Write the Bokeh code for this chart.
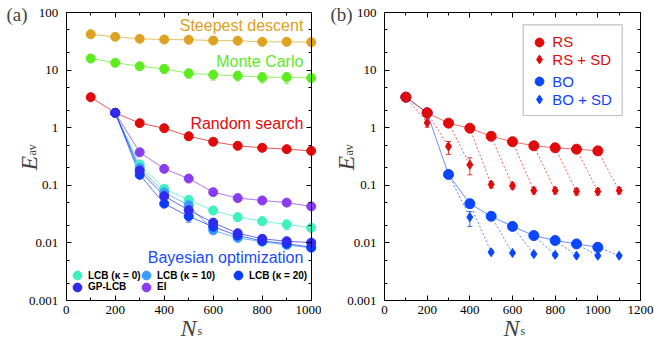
import math
from bokeh.plotting import figure
from bokeh.models import (Range1d, FixedTicker, CustomJSTickFormatter, LinearAxis, LogAxis,
                          Label, Legend, LegendItem, Whisker, TeeHead, ColumnDataSource, BoxAnnotation)
from bokeh.layouts import row
from bokeh.embed import file_html
from bokeh.resources import INLINE

# ---------------- data: panel (a) ----------------
n_a = [100, 200, 300, 400, 500, 600, 700, 800, 900, 1000]
sd_vals = [42.0, 37.8, 34.9, 34.0, 33.6, 32.6, 32.3, 31.0, 31.0, 30.5]
mc_vals = [15.9, 13.4, 11.7, 10.5, 8.8, 8.3, 8.0, 7.5, 7.5, 7.3]
mc_lo = [14.8, 11.5, 10.0, 8.7, 7.2, 6.7, 6.5, 6.0, 5.9, 6.2]
mc_hi = [17.0, 15.2, 13.5, 12.4, 10.3, 9.9, 9.5, 9.0, 9.0, 8.5]
rs_vals = [3.39, 1.81, 1.20, 0.98, 0.71, 0.57, 0.485, 0.448, 0.424, 0.396]

n_bo = [200, 300, 400, 500, 600, 700, 800, 900, 1000]
ei_vals = [1.81, 0.375, 0.193, 0.131, 0.076, 0.060, 0.0545, 0.050, 0.043]
lcb0_vals = [1.81, 0.23, 0.087, 0.056, 0.0365, 0.028, 0.0238, 0.0209, 0.0183]
lcb0_lo = [1.81, 0.22, 0.080, 0.047, 0.033, 0.024, 0.020, 0.017, 0.0170]
lcb0_hi = [1.81, 0.24, 0.095, 0.065, 0.040, 0.033, 0.028, 0.025, 0.0196]
lcb10_vals = [1.81, 0.20, 0.075, 0.045, 0.0165, 0.0122, 0.0105, 0.0092, 0.0082]
lcb20_vals = [1.81, 0.152, 0.048, 0.029, 0.019, 0.0134, 0.0108, 0.0097, 0.0084]
lcb20_lo = [1.81, 0.145, 0.044, 0.023, 0.017, 0.0125, 0.0100, 0.0090, 0.0078]
lcb20_hi = [1.81, 0.160, 0.052, 0.035, 0.021, 0.0143, 0.0116, 0.0104, 0.0090]
gplcb_vals = [1.81, 0.18, 0.065, 0.037, 0.0225, 0.0147, 0.0118, 0.0107, 0.0101]

# ---------------- data: panel (b) ----------------
n_b = [100, 200, 300, 400, 500, 600, 700, 800, 900, 1000]
rs_b_vals = [3.39, 1.81, 1.20, 0.98, 0.71, 0.57, 0.485, 0.448, 0.424, 0.396]
n_rssd = [200, 300, 400, 500, 600, 700, 800, 900, 1000, 1100]
rssd_vals = [1.22, 0.472, 0.227, 0.103, 0.098, 0.081, 0.081, 0.078, 0.078, 0.081]
rssd_lo = [1.02, 0.343, 0.152, 0.090, 0.086, 0.071, 0.071, 0.068, 0.068, 0.071]
rssd_hi = [1.43, 0.576, 0.300, 0.116, 0.110, 0.091, 0.091, 0.088, 0.088, 0.091]
bo_b_vals = [3.39, 1.81, 0.154, 0.048, 0.029, 0.0193, 0.0134, 0.0110, 0.0096, 0.0084]
n_bosd = [400, 500, 600, 700, 800, 900, 1000, 1100]
bosd_vals = [0.028, 0.0069, 0.0067, 0.0064, 0.0062, 0.0060, 0.0060, 0.0060]
bosd_lo = [0.0193, 0.0065, 0.0063, 0.0060, 0.0058, 0.0057, 0.0057, 0.0057]
bosd_hi = [0.035, 0.0073, 0.0071, 0.0068, 0.0066, 0.0063, 0.0063, 0.0063]

y_major = [0.001, 0.01, 0.1, 1, 10, 100]
y_minor = [m * 10.0 ** e for e in range(-3, 2) for m in (2, 5)]
xa_major = [0, 200, 400, 600, 800, 1000]
xa_minor = [100, 300, 500, 700, 900]
xb_major = [0, 200, 400, 600, 800, 1000, 1200]
xb_minor = [100, 300, 500, 700, 900, 1100]

# ---------------- colours / fonts ----------------
C_SD = "#dda21f"
C_MC = "#5ded1f"
C_RS = "#e00a0a"
C_EI = "#8a3cf0"
C_L0 = "#3ff0c0"
C_L10 = "#3b9cff"
C_L20 = "#0a3cff"
C_GP = "#2e2aee"
C_BO = "#0a46ff"
SERIF = "Liberation Serif"
SANS = "Liberation Sans"

H = 340            # canvas height
F_TOP, F_BOT = 12.0, 300.0     # data box top/bottom (px from top)
Y_LO, Y_HI = 0.001, 100.0


def make_fig(width, box_left, box_right, xmax, xt_major, xt_minor):
    # canvas-wide frame; the data box is placed by the ranges, axes are pinned to it
    ppu = (box_right - box_left) / xmax
    x0 = -box_left / ppu
    x1 = (width - box_left) / ppu
    dec = (F_BOT - F_TOP) / (math.log10(Y_HI) - math.log10(Y_LO))
    ytop = math.log10(Y_HI) + F_TOP / dec
    ybot = math.log10(Y_LO) - (H - F_BOT) / dec
    p = figure(width=width, height=H, x_range=Range1d(x0, x1),
               y_range=Range1d(10 ** ybot, 10 ** ytop), y_axis_type="log",
               output_backend="svg", toolbar_location=None,
               min_border=0, min_border_left=0, min_border_right=0,
               min_border_top=0, min_border_bottom=0)
    p.grid.visible = False
    p.outline_line_color = None
    p.background_fill_color = "white"
    p.border_fill_color = "white"
    xt = FixedTicker(ticks=xt_major, minor_ticks=xt_minor)
    yt = FixedTicker(ticks=y_major, minor_ticks=y_minor)
    fmt = CustomJSTickFormatter(code="""
        if (tick >= 1) { return tick.toFixed(0); }
        const d = Math.round(-Math.log10(tick));
        return tick.toFixed(d);
    """)
    xa = p.xaxis[0]
    ya = p.yaxis[0]
    xa.fixed_location = Y_LO
    ya.fixed_location = 0
    xa.bounds = (0, xmax)
    ya.bounds = (Y_LO, Y_HI)
    xa.ticker = xt
    ya.ticker = yt
    ya.formatter = fmt
    xa.major_label_standoff = 5
    ya.major_label_standoff = 8
    empty = CustomJSTickFormatter(code="return '';")
    top = LinearAxis(ticker=xt, formatter=empty, fixed_location=Y_HI, bounds=(0, xmax))
    right = LogAxis(ticker=yt, formatter=empty, fixed_location=xmax, bounds=(Y_LO, Y_HI))
    p.add_layout(top, "above")
    p.add_layout(right, "right")
    for ax in (xa, ya, top, right):
        ax.major_tick_in = 5
        ax.major_tick_out = 0
        ax.minor_tick_in = 3
        ax.minor_tick_out = 0
        ax.major_label_text_font = SERIF
        ax.major_label_text_font_size = "13px"
        ax.major_label_text_color = "black"
        ax.axis_line_color = "black"
        ax.major_tick_line_color = "black"
        ax.minor_tick_line_color = "black"
    return p


def slabel(p, x, y, text, size, **kw):
    p.add_layout(Label(x=x, y=y, x_units="screen", y_units="screen", text=text,
                       text_font=SERIF, text_font_size=size, **kw))


def add_titles(p, panel, px, ex, nx):
    slabel(p, px, 326, panel, "19px", text_align="left", text_baseline="middle")
    # y label  E_av  (rotated, reading upwards)
    slabel(p, ex, 170, "E", "24px", angle=math.pi / 2, text_font_style="italic",
           text_align="left", text_baseline="alphabetic")
    slabel(p, ex + 3, 185, "av", "12px", angle=math.pi / 2,
           text_align="left", text_baseline="alphabetic")
    # x label  N_s
    slabel(p, nx, 13, "N", "24px", text_font_style="italic",
           text_align="left", text_baseline="alphabetic")
    slabel(p, nx + 17, 10, "s", "12px", text_align="left", text_baseline="alphabetic")


def whisker(p, x, lo, hi, color):
    src = ColumnDataSource(dict(x=x, lo=lo, hi=hi))
    w = Whisker(source=src, base="x", lower="lo", upper="hi", line_color=color, line_width=1,
                line_alpha=0.8,
                lower_head=TeeHead(size=5, line_color=color, line_width=1, line_alpha=0.8),
                upper_head=TeeHead(size=5, line_color=color, line_width=1, line_alpha=0.8))
    p.add_layout(w)


# ================= panel (a) =================
pa = make_fig(321, 65.7, 310.7, 1000, xa_major, xa_minor)

series_a = [
    (n_a, sd_vals, C_SD),
    (n_a, mc_vals, C_MC),
    (n_a, rs_vals, C_RS),
    (n_bo, ei_vals, C_EI),
    (n_bo, lcb0_vals, C_L0),
    (n_bo, lcb10_vals, C_L10),
    (n_bo, lcb20_vals, C_L20),
    (n_bo, gplcb_vals, C_GP),
]
for x, y, c in series_a:
    pa.line(x, y, line_color=c, line_width=1, line_alpha=0.7)
whisker(pa, n_a, mc_lo, mc_hi, C_MC)
whisker(pa, n_bo, lcb0_lo, lcb0_hi, C_L0)
whisker(pa, n_bo, lcb20_lo, lcb20_hi, C_L20)
marks_a = []
for x, y, c in series_a:
    marks_a.append(pa.scatter(x, y, marker="circle", size=9, fill_color=c, line_color=c))

for txt, yv, col in [("Steepest descent", 59.4, "#e0a020"), ("Monte Carlo", 14.1, "#5ee82a"),
                     ("Random search", 1.2, "#e00a0a"), ("Bayesian optimization", 0.0055, "#1a4cff")]:
    pa.add_layout(Label(x=968, y=yv, text=txt, text_font=SANS, text_font_size="16px",
                        text_color=col, text_align="right", text_baseline="middle"))

leg_a = [
    ("LCB (\u03ba = 0)", 4, 66, 54, -1),
    ("LCB (\u03ba = 10)", 5, 135, 54, -1),
    ("LCB (\u03ba = 20)", 6, 227, 54, -3),
    ("GP-LCB", 7, 66, 42.3, -1),
    ("EI", 3, 135, 42.3, -1),
]
for label, idx, lx, ly, so in leg_a:
    lg = Legend(items=[LegendItem(label=label, renderers=[marks_a[idx]])],
                location=(lx, ly), padding=0, margin=0, spacing=0,
                glyph_width=22, glyph_height=22, label_standoff=so, label_height=12,
                border_line_color=None, background_fill_alpha=0,
                label_text_font=SANS, label_text_font_style="bold", label_text_font_size="10px",
                label_text_color="black")
    pa.add_layout(lg, "center")

add_titles(pa, "(a)", 6, 28, 180)

# ================= panel (b) =================
pb = make_fig(333, 63, 319, 1200, xb_major, xb_minor)

# dashed links: each sample count -> steepest descent started from it
pb.segment(x0=n_b, y0=rs_b_vals, x1=n_rssd, y1=rssd_vals, line_color=C_RS,
           line_width=1, line_alpha=0.65, line_dash="2 2")
pb.segment(x0=n_b[2:], y0=bo_b_vals[2:], x1=n_bosd, y1=bosd_vals, line_color=C_BO,
           line_width=1, line_alpha=0.65, line_dash="2 2")
pb.line(n_b, bo_b_vals, line_color=C_BO, line_width=1, line_alpha=0.6)
pb.line(n_b, rs_b_vals, line_color=C_RS, line_width=1, line_alpha=0.6)
whisker(pb, n_rssd, rssd_lo, rssd_hi, C_RS)
whisker(pb, n_bosd, bosd_lo, bosd_hi, C_BO)
r_bo = pb.scatter(n_b, bo_b_vals, marker="circle", size=10, fill_color=C_BO, line_color=C_BO)
r_bosd = pb.scatter(n_bosd, bosd_vals, marker="diamond", size=9,
                    fill_color=C_BO, line_color=C_BO)
r_rs = pb.scatter(n_b, rs_b_vals, marker="circle", size=10, fill_color=C_RS, line_color=C_RS)
r_rssd = pb.scatter(n_rssd, rssd_vals, marker="diamond", size=9,
                    fill_color=C_RS, line_color=C_RS)

pb.add_layout(BoxAnnotation(left=201.7, right=300.7, top=315.7, bottom=225,
                            left_units="screen", right_units="screen",
                            top_units="screen", bottom_units="screen",
                            fill_alpha=0, line_color="#333333", line_width=1.2))
for label, rend, cy, col, g in [("RS", r_rs, 298.3, C_RS, 22), ("RS + SD", r_rssd, 280.7, C_RS, 22),
                                ("BO", r_bo, 259, "#1144ff", 22), ("BO + SD", r_bosd, 241, "#1144ff", 22)]:
    lx = 218.3 - g / 2
    lg = Legend(items=[LegendItem(label=label, renderers=[rend])],
                location=(lx, cy - g / 2), padding=0, margin=0, spacing=0,
                glyph_width=g, glyph_height=g, label_standoff=int(round(231.7 - lx - g)),
                label_height=g,
                border_line_color=None, background_fill_alpha=0,
                label_text_font=SANS, label_text_font_size="15px", label_text_color=col)
    pb.add_layout(lg, "center")

add_titles(pb, "(b)", 9, 24, 182)

layout = row(pa, pb)
open("out.html", "w").write(file_html(layout, INLINE))
